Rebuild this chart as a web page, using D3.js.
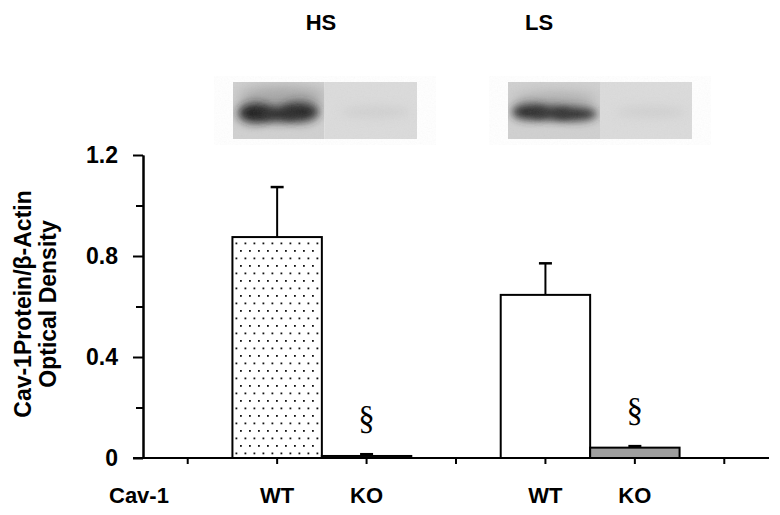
<!DOCTYPE html>
<html>
<head>
<meta charset="utf-8">
<script src="https://cdn.jsdelivr.net/npm/d3@7/dist/d3.min.js"></script>
<style>
  body { margin: 0; background: #fff; }
  svg { display: block; font-family: Arial, "Liberation Sans", sans-serif; }
</style>
</head>
<body>
<svg id="chart" width="780" height="515"></svg>
<script>
// slots along the x axis (one tick per slot, some are empty spacers)
const slots = ["gap1", "HS-WT", "HS-KO", "gap2", "LS-WT", "LS-KO", "gap3"];
const barKeys = ["HS-WT", "HS-KO", "LS-WT", "LS-KO"];
const barLabels = ["WT", "KO", "WT", "KO"];
const means = [0.875, 0.008, 0.646, 0.041];
const errors = [0.198, 0.007, 0.125, 0.006];
const significant = [false, true, false, true];
const groupNames = ["HS", "LS"];
const yMajorTicks = [0, 0.4, 0.8, 1.2];
const yMinorTicks = [0.2, 0.6, 1.0];

const svg = d3.select("#chart");
const margin = {left: 143, right: 11, top: 155, bottom: 57};
const W = 780, H = 515;

const x = d3.scaleBand().domain(slots).range([margin.left, W - margin.right]).padding(0);
const y = d3.scaleLinear().domain([0, 1.2]).range([H - margin.bottom, margin.top]);

const defs = svg.append("defs");

// dotted fill for the first bar
const pat = defs.append("pattern")
    .attr("id", "dots")
    .attr("patternUnits", "userSpaceOnUse")
    .attr("width", 9).attr("height", 15);
pat.append("rect").attr("width", 9).attr("height", 15).attr("fill", "#fff");
pat.append("rect").attr("x", 1.5).attr("y", 2.5).attr("width", 1.8).attr("height", 1.8).attr("fill", "#111");
pat.append("rect").attr("x", 6).attr("y", 10).attr("width", 1.8).attr("height", 1.8).attr("fill", "#111");

const fills = ["url(#dots)", "#fff", "#fff", "#9e9e9e"];

// --- western blot pictures above the bars ---
function blurFilter(id, sd) {
  defs.append("filter").attr("id", id).attr("x", "-50%").attr("y", "-150%").attr("width", "200%").attr("height", "400%")
    .append("feGaussianBlur").attr("stdDeviation", sd);
}
blurFilter("blur7", 7);
blurFilter("blur5", 5);
blurFilter("blur4", 4.5);
const grain = defs.append("filter").attr("id", "grain");
grain.append("feTurbulence").attr("type", "fractalNoise").attr("baseFrequency", 0.7).attr("numOctaves", 2).attr("seed", 3);
grain.append("feColorMatrix").attr("type", "saturate").attr("values", 0);

const blots = [
  {x0: 233, mid: 324.5, x1: 417,
   spots: [[255, 113, 17, 10, "#1a1a1a"], [300, 112, 19, 10, "#262626"], [278, 114, 20, 8, "#2a2a2a"]],
   haze: [282, 97, 44, 10], blur: "url(#blur5)"},
  {x0: 508, mid: 600, x1: 692,
   spots: [[530, 112, 18, 8, "#2a2a2a"], [575, 114, 22, 7, "#2e2e2e"], [552, 113, 20, 7, "#333"]],
   haze: [555, 101, 42, 7], blur: "url(#blur4)"}
];
const blotTop = 82, blotBottom = 139;

blots.forEach((b, i) => {
  const clipId = "clipL" + i;
  defs.append("clipPath").attr("id", clipId)
    .append("rect").attr("x", b.x0).attr("y", blotTop).attr("width", b.mid - b.x0).attr("height", blotBottom - blotTop);
  const g = svg.append("g");
  g.append("rect").attr("x", b.x0).attr("y", blotTop).attr("width", b.mid - b.x0).attr("height", blotBottom - blotTop).attr("fill", "#d0d0d0");
  g.append("rect").attr("x", b.mid).attr("y", blotTop).attr("width", b.x1 - b.mid).attr("height", blotBottom - blotTop).attr("fill", "#dbdbdb");
  const gl = g.append("g").attr("clip-path", "url(#" + clipId + ")");
  gl.append("ellipse").attr("cx", b.haze[0]).attr("cy", b.haze[1]).attr("rx", b.haze[2]).attr("ry", b.haze[3])
    .attr("fill", "#777").attr("opacity", 0.5).attr("filter", "url(#blur7)");
  b.spots.forEach(s => {
    gl.append("ellipse").attr("cx", s[0]).attr("cy", s[1]).attr("rx", s[2]).attr("ry", s[3])
      .attr("fill", s[4]).attr("filter", b.blur);
  });
  // faint band on the KO lane
  g.append("ellipse").attr("cx", (b.mid + b.x1) / 2 + 5).attr("cy", 112).attr("rx", 35).attr("ry", 6)
    .attr("fill", "#c6c6c6").attr("opacity", 0.5).attr("filter", "url(#blur5)");
  g.append("rect").attr("x", b.x0).attr("y", blotTop).attr("width", b.x1 - b.x0).attr("height", blotBottom - blotTop)
    .attr("filter", "url(#grain)").attr("opacity", 0.07);
});

// group labels
const groupX = [321, 539];
svg.selectAll(".group").data(groupNames).enter().append("text")
    .attr("x", (d, i) => groupX[i]).attr("y", 30)
    .attr("text-anchor", "middle")
    .attr("font-size", 22).attr("font-weight", "bold")
    .text(d => d);

// --- bars ---
const bars = barKeys.map((k, i) => ({key: k, label: barLabels[i], mean: means[i], err: errors[i], sig: significant[i], fill: fills[i]}));

svg.selectAll(".bar").data(bars).enter().append("rect")
    .attr("x", d => x(d.key))
    .attr("y", d => y(d.mean))
    .attr("width", x.bandwidth())
    .attr("height", d => y(0) - y(d.mean))
    .attr("fill", d => d.fill)
    .attr("stroke", "#000").attr("stroke-width", 2);

// error bars (upper only)
const cx = d => x(d.key) + x.bandwidth() / 2;
svg.selectAll(".err").data(bars).enter().append("line")
    .attr("x1", cx).attr("x2", cx)
    .attr("y1", d => y(d.mean)).attr("y2", d => y(d.mean + d.err))
    .attr("stroke", "#000").attr("stroke-width", 2);
svg.selectAll(".cap").data(bars).enter().append("line")
    .attr("x1", d => cx(d) - 6.5).attr("x2", d => cx(d) + 6.5)
    .attr("y1", d => y(d.mean + d.err)).attr("y2", d => y(d.mean + d.err))
    .attr("stroke", "#000").attr("stroke-width", 2.5);

// significance marks
svg.selectAll(".sig").data(bars.filter(d => d.sig)).enter().append("text")
    .attr("x", cx)
    .attr("y", d => y(d.mean + d.err) - 25)
    .attr("text-anchor", "middle")
    .attr("font-family", "'Times New Roman', 'Liberation Serif', serif")
    .attr("font-size", 33)
    .text("\u00A7");

// --- axes ---
const yAxis = svg.append("g")
    .attr("transform", "translate(" + margin.left + ",0)")
    .call(d3.axisLeft(y).tickValues(yMajorTicks).tickSize(10).tickSizeOuter(0).tickPadding(15)
      .tickFormat(d => d === 0 ? "0" : d3.format(".1f")(d)));
yAxis.selectAll("text").attr("font-size", 23).attr("font-weight", "bold").attr("fill", "#000")
    .attr("font-family", "Arial, 'Liberation Sans', sans-serif");
svg.append("g")
    .attr("transform", "translate(" + margin.left + ",0)")
    .call(d3.axisLeft(y).tickValues(yMinorTicks).tickSize(7).tickSizeOuter(0).tickFormat(""));

const xAxis = svg.append("g")
    .attr("transform", "translate(0," + y(0) + ")")
    .call(d3.axisBottom(x).tickSize(6).tickSizeOuter(0).tickFormat(""));

svg.selectAll(".domain").attr("stroke", "#000").attr("stroke-width", 2);
svg.selectAll(".tick line").attr("stroke", "#000").attr("stroke-width", 2);
xAxis.select(".domain").attr("d", "M" + (margin.left - 10) + ",0H" + (W - margin.right));

// category labels under the axis
svg.selectAll(".xlab").data(bars).enter().append("text")
    .attr("x", cx).attr("y", 503)
    .attr("text-anchor", "middle")
    .attr("font-size", 22).attr("font-weight", "bold")
    .text(d => d.label);
svg.append("text")
    .attr("x", 109).attr("y", 503)
    .attr("font-size", 22).attr("font-weight", "bold")
    .text("Cav-1");

// y title (two lines)
const yTitle = svg.append("text")
    .attr("transform", "translate(31,304) rotate(-90)")
    .attr("text-anchor", "middle")
    .attr("font-size", 23).attr("font-weight", "bold");
yTitle.append("tspan").attr("x", 0).attr("y", 0).text("Cav-1Protein/\u03B2-Actin");
yTitle.append("tspan").attr("x", 0).attr("y", 25).text("Optical Density");
</script>
</body>
</html>
